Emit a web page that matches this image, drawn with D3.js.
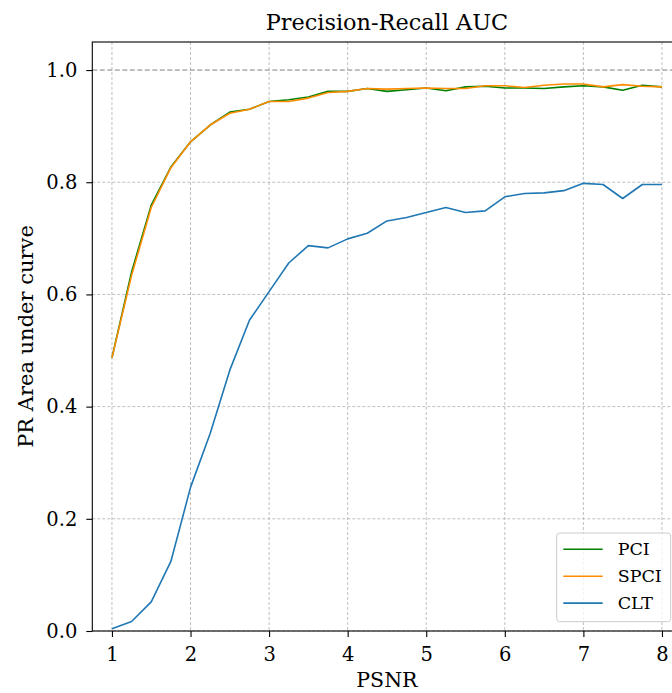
<!DOCTYPE html>
<html>
<head>
<meta charset="utf-8">
<script src="https://cdn.jsdelivr.net/npm/d3@7"></script>
<style>
  body { margin: 0; background: #fff; }
  svg text { font-family: "DejaVu Serif", serif; fill: #000; }
  .grid line { stroke: #b0b0b0; stroke-dasharray: 3,2; stroke-width: 0.8; }
</style>
</head>
<body>
<svg id="chart"></svg>
<script>
// PSNR values on the x axis
const psnr = [1, 1.25, 1.5, 1.75, 2, 2.25, 2.5, 2.75, 3, 3.25, 3.5, 3.75, 4, 4.25, 4.5,
              4.75, 5, 5.25, 5.5, 5.75, 6, 6.25, 6.5, 6.75, 7, 7.25, 7.5, 7.75, 8];

// PR AUC for each method
const pci = [0.487, 0.640, 0.759, 0.827, 0.872, 0.902, 0.925, 0.930, 0.944, 0.947, 0.952, 0.962, 0.962, 0.967, 0.962,
             0.965, 0.968, 0.963, 0.970, 0.971, 0.968, 0.968, 0.967, 0.970, 0.972, 0.970, 0.964, 0.973, 0.970];
const spci = [0.487, 0.634, 0.755, 0.826, 0.872, 0.902, 0.923, 0.930, 0.944, 0.944, 0.950, 0.960, 0.962, 0.967, 0.966,
              0.967, 0.968, 0.967, 0.967, 0.972, 0.972, 0.969, 0.973, 0.975, 0.975, 0.970, 0.974, 0.971, 0.970];
const clt = [0.004, 0.017, 0.052, 0.124, 0.256, 0.352, 0.465, 0.554, 0.605, 0.656, 0.687, 0.683, 0.699, 0.709, 0.731,
             0.737, 0.746, 0.755, 0.746, 0.749, 0.774, 0.780, 0.781, 0.785, 0.798, 0.796, 0.771, 0.796, 0.796];

const xTicks = [1, 2, 3, 4, 5, 6, 7, 8];
const yTicks = [0, 0.2, 0.4, 0.6, 0.8, 1.0];

const series = [
  {name: 'PCI', values: pci, color: '#008000'},
  {name: 'SPCI', values: spci, color: '#ff8c00'},
  {name: 'CLT', values: clt, color: '#1f77b4'}
];

const width = 672, height = 693;
const margin = {top: 42, left: 92.3};
const plotW = 589.3, plotH = 589;

const svg = d3.select('#chart')
    .attr('width', width)
    .attr('height', height);

const xScale = d3.scaleLinear().domain([0.75, 8.25]).range([0, plotW]);
const yScale = d3.scaleLinear().domain([0, 1.05]).range([plotH, 0]);

const chart = svg.append('g')
    .attr('transform', `translate(${margin.left},${margin.top})`);

// grid
const grid = chart.append('g').attr('class', 'grid');
grid.selectAll('.vg').data(xTicks).join('line')
    .attr('x1', d => xScale(d)).attr('x2', d => xScale(d))
    .attr('y1', 0).attr('y2', plotH);
grid.selectAll('.hg').data(yTicks.filter(d => d !== 1)).join('line')
    .attr('x1', 0).attr('x2', plotW)
    .attr('y1', d => yScale(d)).attr('y2', d => yScale(d));

// reference line at 1.0
chart.append('line')
    .attr('x1', 0).attr('x2', plotW)
    .attr('y1', yScale(1)).attr('y2', yScale(1))
    .attr('stroke', '#808080')
    .attr('stroke-width', 1)
    .attr('stroke-dasharray', '5,2.5');

// lines
const line = d3.line()
    .x((d, i) => xScale(psnr[i]))
    .y(d => yScale(d));

chart.selectAll('.series').data(series).join('path')
    .attr('class', 'series')
    .attr('fill', 'none')
    .attr('stroke', d => d.color)
    .attr('stroke-width', 1.6)
    .attr('stroke-linejoin', 'round')
    .attr('d', d => line(d.values));

// axes
const xAxis = d3.axisBottom(xScale).tickValues(xTicks).tickSize(6).tickPadding(10).tickFormat(d3.format('d'));
const yAxis = d3.axisLeft(yScale).tickValues(yTicks).tickSize(6).tickPadding(9).tickFormat(d3.format('.1f'));

const xAxisG = chart.append('g')
    .attr('transform', `translate(0,${plotH})`)
    .call(xAxis);
const yAxisG = chart.append('g').call(yAxis);

[xAxisG, yAxisG].forEach(g => {
  g.select('.domain').remove();
  g.selectAll('line').attr('stroke', '#000').attr('stroke-width', 1.1);
  g.selectAll('text').attr('font-size', 19.5).attr('font-family', 'DejaVu Serif');
});

// frame
chart.append('rect')
    .attr('width', plotW).attr('height', plotH)
    .attr('fill', 'none')
    .attr('stroke', '#000')
    .attr('stroke-width', 1.1);

// title and labels
svg.append('text')
    .attr('x', margin.left + plotW / 2).attr('y', 30)
    .attr('text-anchor', 'middle')
    .attr('font-size', 22.4)
    .text('Precision-Recall AUC');

svg.append('text')
    .attr('x', margin.left + plotW / 2).attr('y', 687)
    .attr('text-anchor', 'middle')
    .attr('font-size', 20.5)
    .text('PSNR');

svg.append('text')
    .attr('transform', `translate(33,${margin.top + plotH / 2}) rotate(-90)`)
    .attr('text-anchor', 'middle')
    .attr('font-size', 21)
    .text('PR Area under curve');

// legend
const legend = svg.append('g').attr('transform', 'translate(556.7,533)');
legend.append('rect')
    .attr('width', 114).attr('height', 88.7)
    .attr('rx', 3)
    .attr('fill', '#fff').attr('fill-opacity', 0.8)
    .attr('stroke', '#cccccc');
const items = legend.selectAll('.item').data(series).join('g')
    .attr('class', 'item')
    .attr('transform', (d, i) => `translate(0,${16.3 + i * 26.9})`);
items.append('line')
    .attr('x1', 6.6).attr('x2', 46)
    .attr('stroke', d => d.color)
    .attr('stroke-width', 1.6);
items.append('text')
    .attr('x', 61).attr('dy', '0.35em')
    .attr('font-size', 17.5)
    .text(d => d.name);
</script>
</body>
</html>
